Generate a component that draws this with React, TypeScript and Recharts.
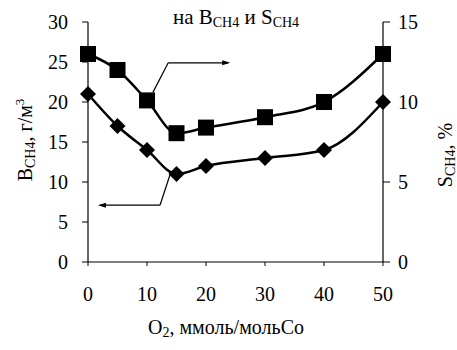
import React from 'react';
import {
  ComposedChart,
  Line,
  XAxis,
  YAxis,
  ReferenceLine,
  Customized,
} from 'recharts';

// O2 dose, mmol per mol Co
const o2Dose = [0, 5, 10, 15, 20, 30, 40, 50];
// Methane yield B_CH4, g/m3 (left axis)
const methaneYield = [21, 17, 14, 11, 12, 13, 14, 20];
// Methane selectivity S_CH4, % (right axis)
const methaneSelectivity = [13, 12, 10.1, 8.05, 8.4, 9.05, 10, 13];

const xTicks = [0, 10, 20, 30, 40, 50];
const leftTicks = [0, 5, 10, 15, 20, 25, 30];
const rightTicks = [0, 5, 10, 15];

const data = o2Dose.map((x, i) => ({
  o2: x,
  yieldB: methaneYield[i],
  selS: methaneSelectivity[i],
}));

const FONT = '"Liberation Serif", "Times New Roman", serif';
const W = 457;
const H = 350;

const SquareDot = (p: any) => {
  const s = 16;
  return (
    <rect
      key={`sq-${p.index}`}
      x={p.cx - s / 2}
      y={p.cy - s / 2}
      width={s}
      height={s}
      fill="#000"
    />
  );
};

const DiamondDot = (p: any) => {
  const r = 8;
  return (
    <polygon
      key={`dm-${p.index}`}
      points={`${p.cx},${p.cy - r} ${p.cx + r},${p.cy} ${p.cx},${p.cy + r} ${p.cx - r},${p.cy}`}
      fill="#000"
    />
  );
};

// plain connector segment
const Segment = (p: any) => (
  <line x1={p.x1} y1={p.y1} x2={p.x2} y2={p.y2} stroke="#000" strokeWidth={1.2} />
);

// segment ending with an arrow head at (x2, y2)
const ArrowSegment = (p: any) => {
  const dir = p.x2 > p.x1 ? 1 : -1;
  const len = 8;
  const half = 2.5;
  return (
    <g>
      <line x1={p.x1} y1={p.y1} x2={p.x2 - dir * 2} y2={p.y2} stroke="#000" strokeWidth={1.2} />
      <polygon
        points={`${p.x2},${p.y2} ${p.x2 - dir * len},${p.y2 - half} ${p.x2 - dir * len},${p.y2 + half}`}
        fill="#000"
      />
    </g>
  );
};

const XTick = (p: any) => (
  <text x={p.x} y={p.y + 19} textAnchor="middle" fontFamily={FONT} fontSize={20} fill="#000">
    {p.payload.value}
  </text>
);

const LeftTick = (p: any) => (
  <text x={p.x} y={p.y + 7} textAnchor="end" fontFamily={FONT} fontSize={20} fill="#000">
    {p.payload.value}
  </text>
);

const RightTick = (p: any) => (
  <text x={p.x} y={p.y + 7} textAnchor="start" fontFamily={FONT} fontSize={20} fill="#000">
    {p.payload.value}
  </text>
);

const Titles = () => (
  <g fontFamily={FONT} fill="#000">
    <text x={236} y={24} fontSize={21} textAnchor="middle">
      на B<tspan fontSize={14} dy={3}>CH4</tspan>
      <tspan dy={-3}> и S</tspan>
      <tspan fontSize={14} dy={3}>CH4</tspan>
    </text>
    <text x={226} y={334} fontSize={20} textAnchor="middle">
      O<tspan fontSize={14} dy={3}>2</tspan>
      <tspan dy={-3}>, ммоль/мольCo</tspan>
    </text>
    <text
      x={32}
      y={140}
      fontSize={20}
      textAnchor="middle"
      transform="rotate(-90 32 140)"
    >
      B<tspan fontSize={14} dy={3}>CH4</tspan>
      <tspan dy={-3}>, г/м</tspan>
      <tspan fontSize={13} dy={-8}>3</tspan>
    </text>
    <text
      x={452}
      y={155}
      fontSize={20}
      textAnchor="middle"
      transform="rotate(-90 452 155)"
    >
      S<tspan fontSize={14} dy={3}>CH4</tspan>
      <tspan dy={-3}>, %</tspan>
    </text>
  </g>
);

export default function App() {
  return (
    <div style={{ position: 'absolute', left: 0, top: 0, width: W, height: H, background: '#fff' }}>
      <ComposedChart
        width={W}
        height={H}
        data={data}
        margin={{ top: 22, right: 0, bottom: 0, left: 0 }}
      >
        <XAxis
          dataKey="o2"
          type="number"
          domain={[0, 50]}
          ticks={xTicks}
          height={88}
          tickSize={4}
          tickMargin={16}
          tick={<XTick />}
          axisLine={{ stroke: '#000', strokeWidth: 1.2 }}
          tickLine={{ stroke: '#000' }}
        />
        <YAxis
          yAxisId="left"
          orientation="left"
          domain={[0, 30]}
          ticks={leftTicks}
          width={88}
          tickSize={6}
          tickMargin={14}
          tick={<LeftTick />}
          axisLine={{ stroke: '#000', strokeWidth: 1.2 }}
          tickLine={{ stroke: '#000' }}
        />
        <YAxis
          yAxisId="right"
          orientation="right"
          domain={[0, 15]}
          ticks={rightTicks}
          width={74}
          tickSize={7}
          tickMargin={8}
          tick={<RightTick />}
          axisLine={{ stroke: '#000', strokeWidth: 1.2 }}
          tickLine={{ stroke: '#000' }}
        />
        <Line
          yAxisId="right"
          dataKey="selS"
          stroke="#000"
          strokeWidth={2.5}
          type="monotone"
          dot={SquareDot}
          activeDot={false}
          isAnimationActive={false}
        />
        <Line
          yAxisId="left"
          dataKey="yieldB"
          stroke="#000"
          strokeWidth={2.5}
          type="monotone"
          dot={DiamondDot}
          activeDot={false}
          isAnimationActive={false}
        />
        {/* pointer: square series belongs to the right axis */}
        <ReferenceLine
          yAxisId="left"
          segment={[{ x: 11, y: 21.2 }, { x: 13.6, y: 24.9 }]}
          shape={Segment}
        />
        <ReferenceLine
          yAxisId="left"
          segment={[{ x: 13.6, y: 24.9 }, { x: 24.1, y: 24.9 }]}
          shape={ArrowSegment}
        />
        {/* pointer: diamond series belongs to the left axis */}
        <ReferenceLine
          yAxisId="left"
          segment={[{ x: 13.9, y: 10.9 }, { x: 12.2, y: 7.1 }]}
          shape={Segment}
        />
        <ReferenceLine
          yAxisId="left"
          segment={[{ x: 12.2, y: 7.1 }, { x: 1.7, y: 7.1 }]}
          shape={ArrowSegment}
        />
        <Customized component={<Titles />} />
      </ComposedChart>
    </div>
  );
}
